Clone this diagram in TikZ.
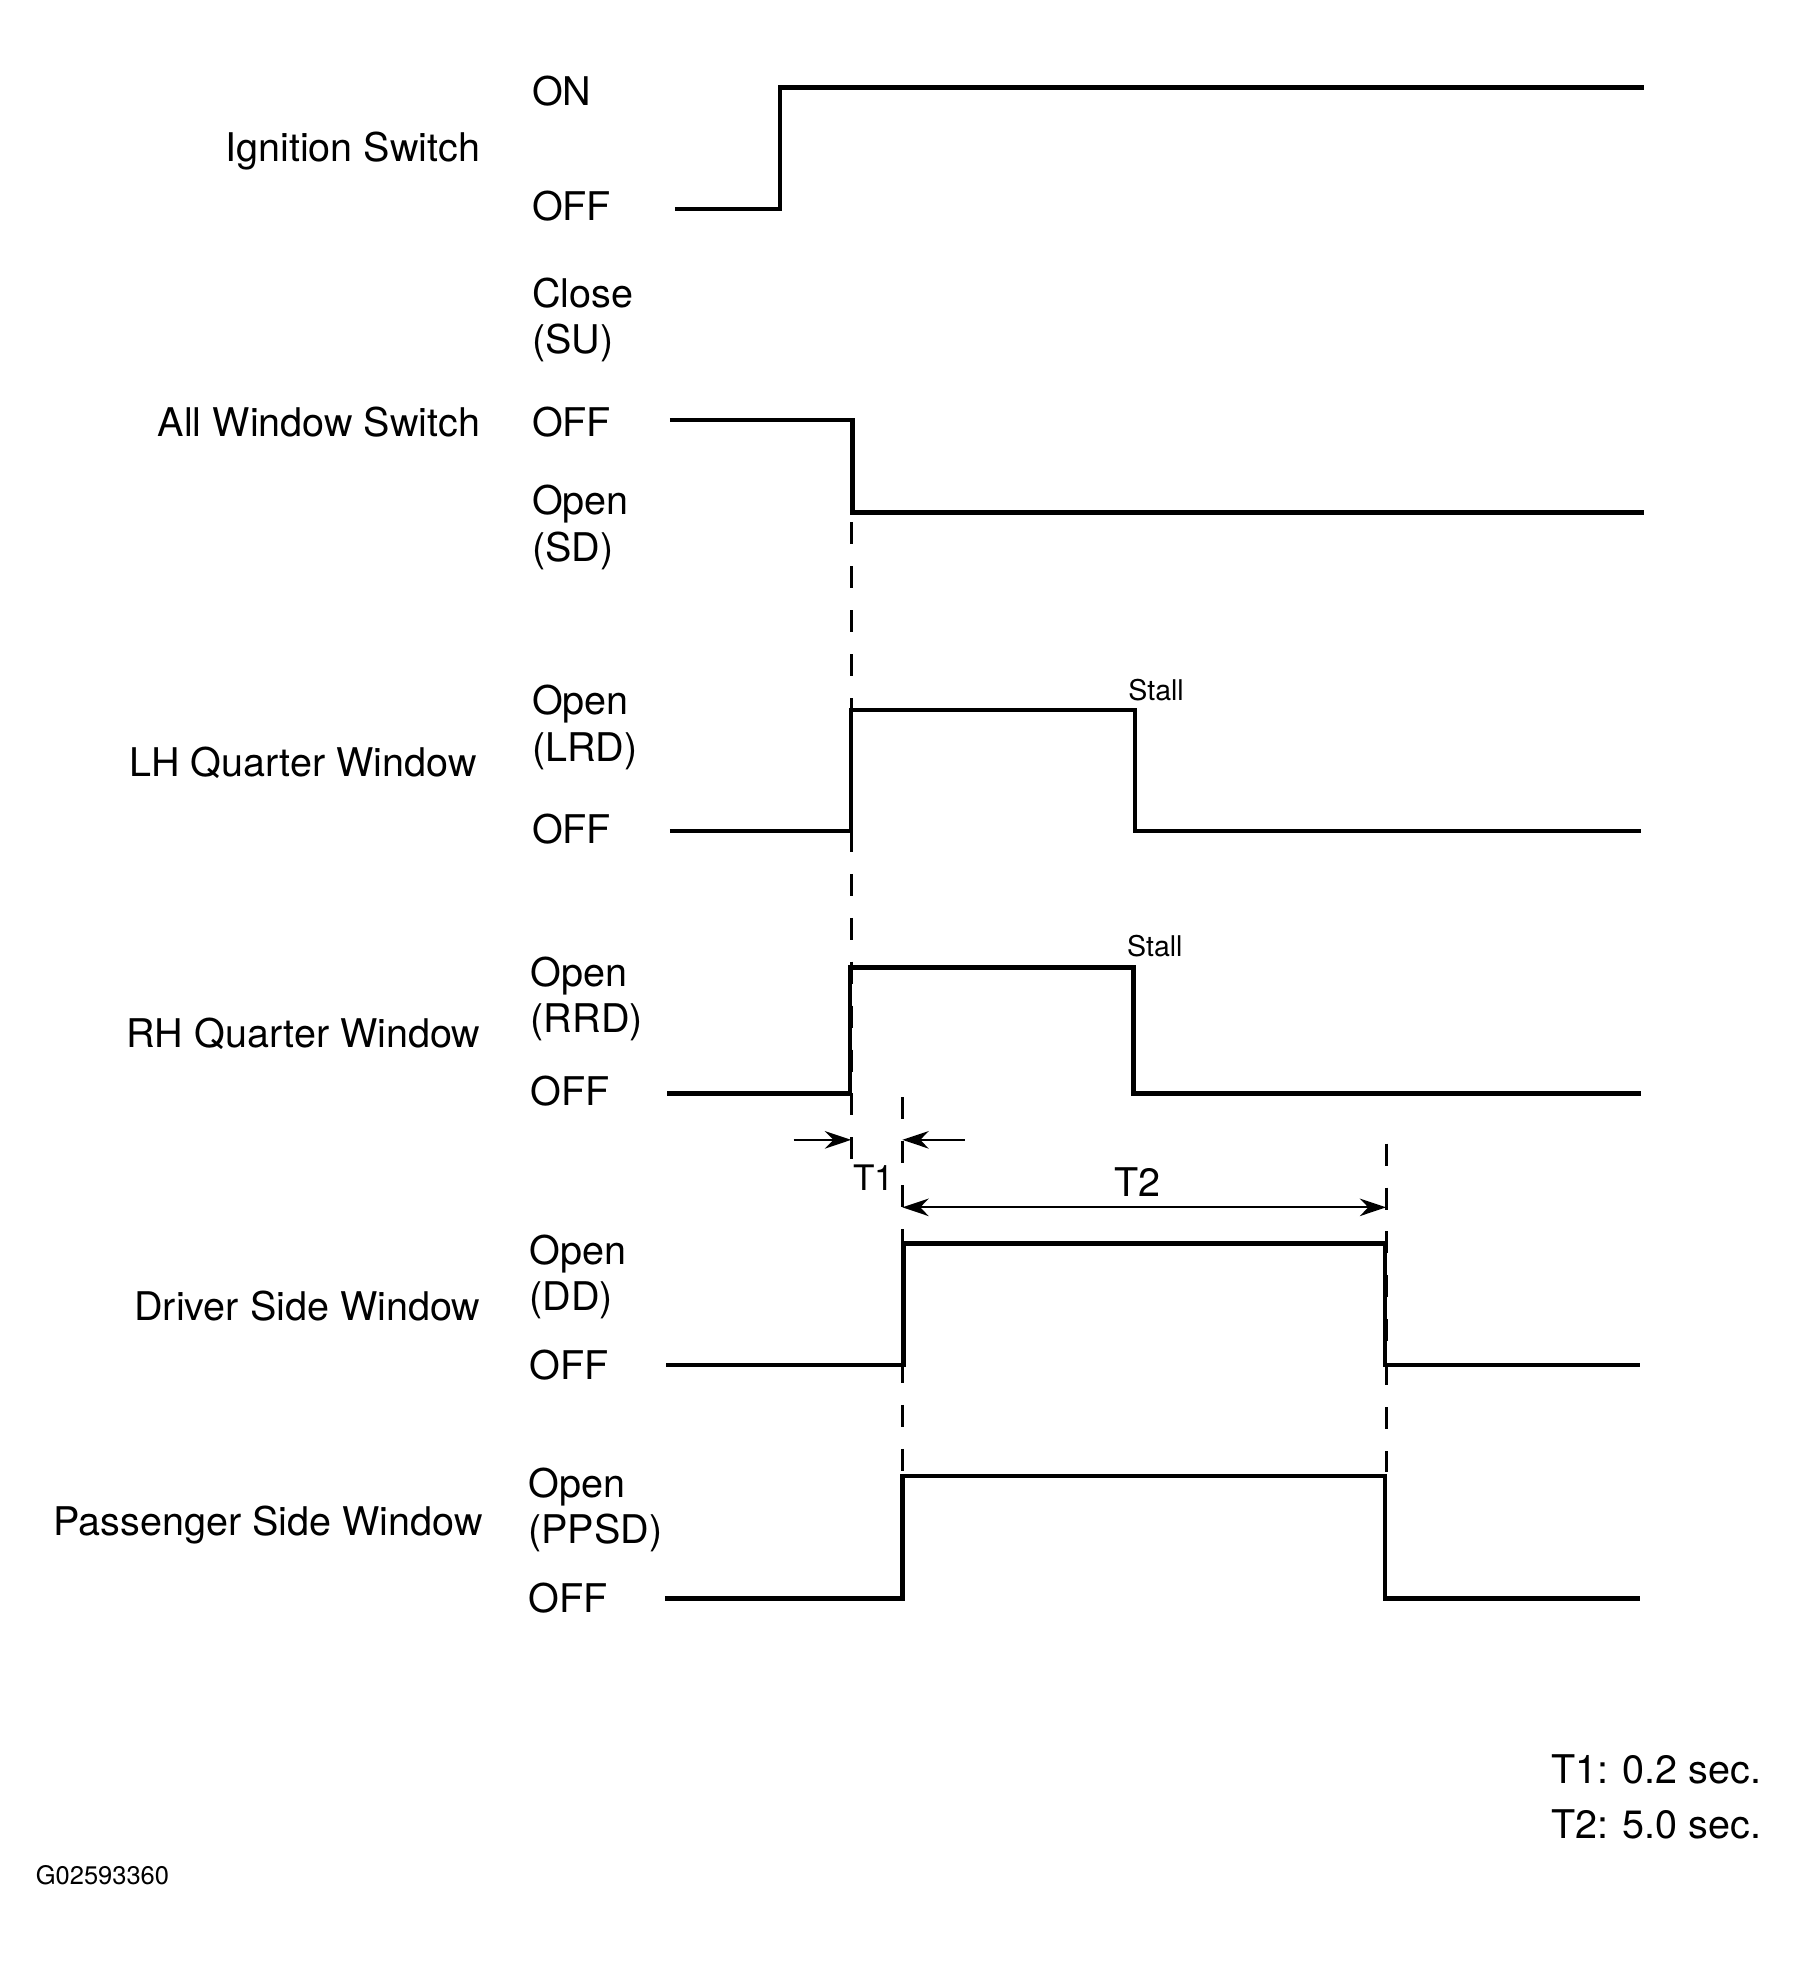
\documentclass[tikz,border=0pt]{standalone}
\usepackage{fontspec}
\setmainfont{TeX Gyre Heros}
\usetikzlibrary{arrows.meta}

\tikzset{
	wave/.style = {line width=1pt},
	guide/.style = {dash pattern=on 5pt off 5pt, line width=0.7pt},
	dim/.style = {line width=0.5pt, -{Stealth[length=6pt,width=4pt]}},
	signame/.style = {anchor=east, inner sep=0pt, font=\fontsize{9}{10.5}\selectfont},
	level/.style = {anchor=west, inner sep=0pt, align=left, font=\fontsize{9}{10.5}\selectfont},
	small/.style = {inner sep=0pt, font=\fontsize{6.5}{7.5}\selectfont}
}

\begin{document}
\begin{tikzpicture}[x=0.1mm, y=-0.1mm]
	\useasboundingbox (0,0) rectangle (1443,1573);
	% signal names
	\node[signame] (ign) at (385,121) {Ignition Switch};
	\node[signame] (aws) at (385,338) {All Window Switch};
	\node[signame] (lhq) at (382,610) {LH Quarter Window};
	\node[signame] (rhq) at (385,827) {RH Quarter Window};
	\node[signame] (drv) at (385,1045) {Driver Side Window};
	\node[signame] (pas) at (387,1220) {Passenger Side Window};
	% levels
	\node[level] (ignon) at (425,73) {ON};
	\node[level] (ignoff) at (425,165) {OFF};
	\node[level] (awsclose) at (425,256) {Close\\(SU)};
	\node[level] (awsoff) at (425,338) {OFF};
	\node[level] (awsopen) at (425,422) {Open\\(SD)};
	\node[level] (lhopen) at (425,582) {Open\\(LRD)};
	\node[level] (lhoff) at (425,663) {OFF};
	\node[level] (rhopen) at (424,799) {Open\\(RRD)};
	\node[level] (rhoff) at (424,873) {OFF};
	\node[level] (dropen) at (423,1022) {Open\\(DD)};
	\node[level] (droff) at (423,1092) {OFF};
	\node[level] (paopen) at (422,1208) {Open\\(PPSD)};
	\node[level] (paoff) at (422,1279) {OFF};
	% waveforms
	\draw[wave] (540,167) -- (624,167) -- (624,70) -- (1315,70);
	\draw[wave] (536,336) -- (682,336) -- (682,410) -- (1315,410);
	\draw[wave] (536,665) -- (681,665) -- (681,568) -- (908,568) -- (908,665) -- (1313,665);
	\draw[wave] (534,875) -- (680,875) -- (680,774) -- (907,774) -- (907,875) -- (1313,875);
	\draw[wave] (533,1092) -- (723,1092) -- (723,995) -- (1108,995) -- (1108,1092) -- (1312,1092);
	\draw[wave] (532,1279) -- (722,1279) -- (722,1181) -- (1108,1181) -- (1108,1279) -- (1312,1279);
	\node[small] (stall1) at (925,552) {Stall};
	\node[small] (stall2) at (924,757) {Stall};
	% timing guides
	\coordinate (g1) at (681,418);
	\coordinate (g2) at (681,935);
	\coordinate (g3) at (722,878);
	\coordinate (g4) at (722,1178);
	\coordinate (g5) at (1109,915);
	\coordinate (g6) at (1109,1178);
	\draw[guide] (g1) -- (g2);
	\draw[guide] (g3) -- (g4);
	\draw[guide] (g5) -- (g6);
	\coordinate (t1a) at (635,912);
	\coordinate (t1b) at (772,912);
	\draw[dim] (t1a) -- (681,912);
	\draw[dim] (t1b) -- (722,912);
	\node[small, font=\fontsize{8}{9}\selectfont] (tone) at (699,942) {T1};
	\draw[dim, {Stealth[length=6pt,width=4pt]}-{Stealth[length=6pt,width=4pt]}] (722,966) -- (1109,966);
	\node[inner sep=0pt, font=\fontsize{9}{10.5}\selectfont] (ttwo) at (910,946) {T2};
	% notes
	\node[anchor=east, inner sep=0pt, font=\fontsize{9}{10.5}\selectfont] (note1) at (1410,1416) {T1: 0.2 sec.};
	\node[anchor=east, inner sep=0pt, font=\fontsize{9}{10.5}\selectfont] (note2) at (1410,1460) {T2: 5.0 sec.};
	\node[anchor=west, small, font=\fontsize{5.8}{7}\selectfont] (code) at (28,1500) {G02593360};
\end{tikzpicture}
\end{document}
